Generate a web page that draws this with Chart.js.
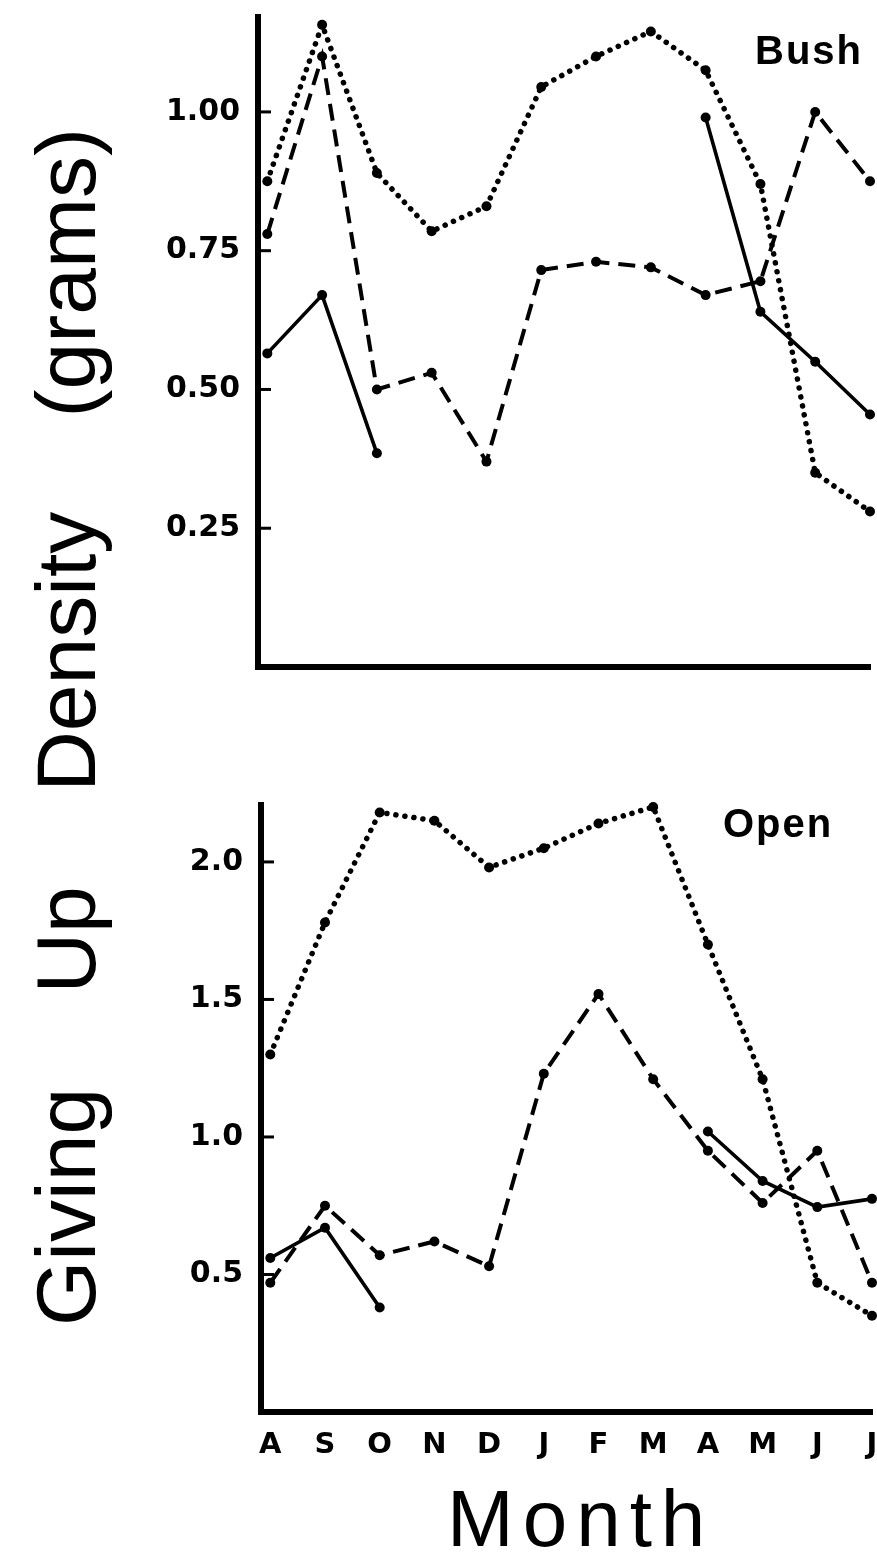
<!DOCTYPE html>
<html>
<head>
<meta charset="utf-8">
<script src="https://cdn.jsdelivr.net/npm/chart.js@4.4.1/dist/chart.umd.min.js"></script>
<style>
  html, body { margin: 0; padding: 0; background: #fff; }
  #wrap { position: relative; width: 877px; height: 1563px; overflow: hidden; background: #fff; }
  #topCanvas { position: absolute; left: 0; top: 0; }
  #botCanvas { position: absolute; left: 0; top: 700px; }
  .ytitle {
    position: absolute; left: 24px; top: 1326px;
    transform-origin: 0 0; transform: rotate(-90deg);
    font-family: 'Liberation Sans', Arial, sans-serif; font-size: 84px; line-height: 84px;
    white-space: nowrap; word-spacing: 71px; color: #000;
  }
  .xtitle {
    position: absolute; left: 447px; top: 1479px;
    font-family: 'Liberation Sans', Arial, sans-serif; font-size: 80px; line-height: 80px;
    letter-spacing: 9px; white-space: nowrap; color: #000;
  }
  .panel {
    position: absolute; font-family: 'Liberation Sans', Arial, sans-serif; font-weight: bold;
    font-size: 40px; line-height: 40px; letter-spacing: 2px; color: #000; white-space: nowrap;
  }
</style>
</head>
<body>
<div id="wrap">
  <canvas id="topCanvas" width="877" height="700"></canvas>
  <canvas id="botCanvas" width="877" height="863"></canvas>
  <div class="ytitle">Giving Up Density (grams)</div>
  <div class="xtitle">Month</div>
  <div class="panel" style="left:755px; top:30px;">Bush</div>
  <div class="panel" style="left:723px; top:803px;">Open</div>
</div>
<script>
// Months, August through July
const months = ['A', 'S', 'O', 'N', 'D', 'J', 'F', 'M', 'A', 'M', 'J', 'J'];

// Bush habitat (grams)
const bushDotted = [0.875, 1.157, 0.89, 0.785, 0.83, 1.045, 1.10, 1.145, 1.075, 0.87, 0.35, 0.28];
const bushDashed = [0.78, 1.10, 0.50, 0.53, 0.37, 0.715, 0.73, 0.72, 0.67, 0.695, 1.00, 0.875];
const bushSolid  = [0.565, 0.67, 0.385, null, null, null, null, null, 0.99, 0.64, 0.55, 0.455];

// Open habitat (grams)
const openDotted = [1.30, 1.78, 2.18, 2.15, 1.98, 2.05, 2.14, 2.20, 1.70, 1.21, 0.47, 0.35];
const openDashed = [0.47, 0.75, 0.57, 0.62, 0.53, 1.23, 1.52, 1.21, 0.95, 0.76, 0.95, 0.47];
const openSolid  = [0.56, 0.67, 0.38, null, null, null, null, null, 1.02, 0.84, 0.745, 0.775];

// Y tick values and their printed labels
const bushTickValues = [0.25, 0.50, 0.75, 1.00];
const bushTickLabels = ['0.25', '0.50', '0.75', '1.00'];
const openTickValues = [0.5, 1.0, 1.5, 2.0];
const openTickLabels = ['0.5', '1.0', '1.5', '2.0'];

const toPoints = vals => vals.map((v, i) => ({ x: i, y: v }));

const lineStyles = {
  dotted: { borderWidth: 5.5, borderDash: [0.1, 9], borderCapStyle: 'round' },
  dashed: { borderWidth: 4, borderDash: [17, 9], borderCapStyle: 'butt' },
  solid:  { borderWidth: 3.6, borderDash: [], borderCapStyle: 'butt' }
};

function makeDataset(vals, style) {
  return Object.assign({
    data: toPoints(vals),
    borderColor: '#000',
    backgroundColor: '#000',
    pointRadius: 5,
    pointHoverRadius: 5,
    pointBorderWidth: 0,
    pointBackgroundColor: '#000',
    tension: 0,
    spanGaps: false,
    clip: false,
    fill: false
  }, lineStyles[style]);
}

// short tick marks pointing into the plot from the y axis
const innerTicks = {
  id: 'innerTicks',
  afterDraw(chart, args, opts) {
    const ys = chart.scales.y;
    const ctx = chart.ctx;
    const left = chart.chartArea.left;
    ctx.save();
    ctx.strokeStyle = '#000';
    ctx.lineWidth = 3;
    ys.ticks.forEach(t => {
      const py = ys.getPixelForValue(t.value);
      ctx.beginPath();
      ctx.moveTo(left, py);
      ctx.lineTo(left + opts.length, py);
      ctx.stroke();
    });
    ctx.restore();
  }
};

function buildChart(canvasId, series, tickValues, tickLabels, yMax, geom, showMonths) {
  return new Chart(document.getElementById(canvasId), {
    type: 'line',
    data: {
      datasets: [
        makeDataset(series[0], 'dotted'),
        makeDataset(series[1], 'dashed'),
        makeDataset(series[2], 'solid')
      ]
    },
    options: {
      responsive: false,
      devicePixelRatio: 1,
      animation: false,
      events: [],
      layout: { padding: { top: geom.top, right: geom.right, left: 0, bottom: 0 } },
      plugins: {
        legend: { display: false },
        tooltip: { enabled: false },
        innerTicks: { length: 13 }
      },
      scales: {
        x: {
          type: 'linear',
          min: -0.17,
          max: 11,
          afterBuildTicks: s => { s.ticks = months.map((m, i) => ({ value: i })); },
          afterFit: s => {
            s.height = geom.xHeight;
            s.paddingLeft = 0; s.paddingRight = 0;
          },
          grid: { display: false, drawTicks: false },
          border: { display: true, color: '#000', width: 6 },
          ticks: {
            display: showMonths,
            autoSkip: false,
            maxRotation: 0,
            padding: 16,
            color: '#000',
            font: { family: 'DejaVu Sans', weight: 'bold', size: 29 },
            callback: v => months[v]
          }
        },
        y: {
          type: 'linear',
          min: 0,
          max: yMax,
          afterBuildTicks: s => { s.ticks = tickValues.map(v => ({ value: v })); },
          afterFit: s => {
            s.width = geom.left;
            s.paddingTop = 0; s.paddingBottom = 0;
          },
          grid: { display: false, drawTicks: false },
          border: { display: true, color: '#000', width: 6 },
          ticks: {
            padding: 18,
            color: '#000',
            font: { family: 'DejaVu Sans', weight: 'bold', size: 30 },
            callback: v => tickLabels[tickValues.indexOf(v)]
          }
        }
      }
    },
    plugins: [innerTicks]
  });
}

// Bush: plot spans 17..667 vertically, 258..870 horizontally
buildChart('topCanvas', [bushDotted, bushDashed, bushSolid], bushTickValues, bushTickLabels, 1.171,
  { top: 17, right: 7, left: 258, xHeight: 33 }, false);

// Open: plot spans 805..1412 on the page
buildChart('botCanvas', [openDotted, openDashed, openSolid], openTickValues, openTickLabels, 2.207,
  { top: 105, right: 5, left: 261, xHeight: 151 }, true);
</script>
</body>
</html>
